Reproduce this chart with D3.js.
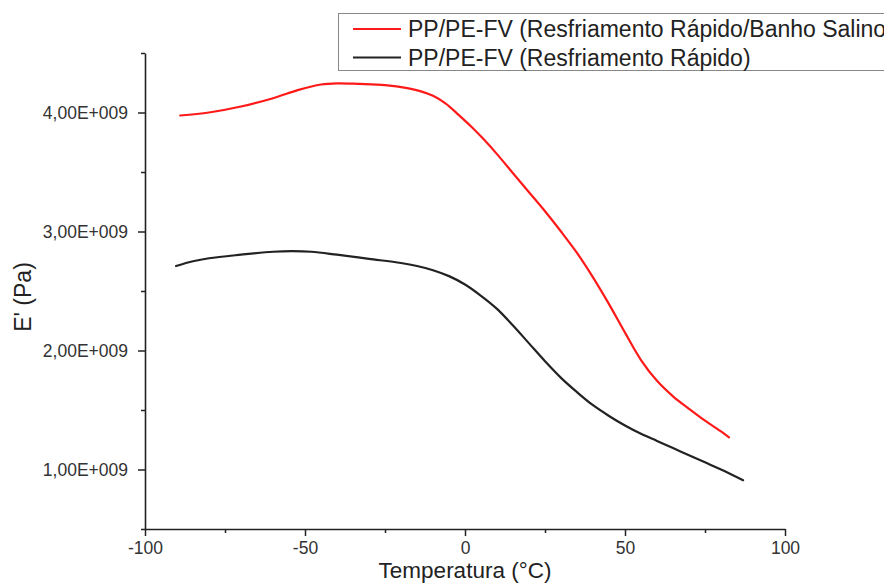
<!DOCTYPE html>
<html>
<head>
<meta charset="utf-8">
<script src="https://cdn.jsdelivr.net/npm/d3@7"></script>
<style>
  html, body { margin: 0; padding: 0; background: #fff; }
  svg { display: block; font-family: "Liberation Sans", Arial, sans-serif; }
</style>
</head>
<body>
<svg id="chart" width="884" height="583"></svg>
<script>
// Storage modulus E' (units of 1E+009 Pa) versus temperature (°C)
const tempSalino = [-89, -80, -70, -60, -52, -45, -40, -33, -25, -18, -14, -10, -6, -2, 2, 6, 10, 15, 20, 25, 30, 35, 40, 45, 50, 55, 60, 65, 70, 75, 80, 82.5];
const eSalino    = [3.975, 4.00, 4.05, 4.12, 4.19, 4.235, 4.245, 4.24, 4.23, 4.205, 4.18, 4.14, 4.075, 3.98, 3.88, 3.77, 3.65, 3.49, 3.33, 3.17, 3.00, 2.82, 2.615, 2.39, 2.15, 1.92, 1.745, 1.615, 1.51, 1.41, 1.32, 1.27];

const tempRapido = [-90.3, -85, -80, -70, -60, -54, -48, -40, -30, -20, -15, -10, -5, 0, 5, 10, 15, 20, 25, 30, 35, 40, 45, 50, 55, 60, 65, 70, 75, 80, 86.9];
const eRapido    = [2.71, 2.75, 2.775, 2.805, 2.83, 2.835, 2.83, 2.805, 2.77, 2.735, 2.71, 2.675, 2.625, 2.555, 2.46, 2.35, 2.21, 2.06, 1.91, 1.77, 1.65, 1.54, 1.45, 1.37, 1.30, 1.24, 1.18, 1.12, 1.06, 1.00, 0.91];

const seriesNames = [
  "PP/PE-FV (Resfriamento Rápido/Banho Salino)",
  "PP/PE-FV (Resfriamento Rápido)"
];
const seriesColors = ["#ff1a1a", "#222222"];

const xMajorTicks = [-100, -50, 0, 50, 100];
const xMinorTicks = [-75, -25, 25, 75];
const yMajorTicks = [1, 2, 3, 4];
const yMinorTicks = [0.5, 1.5, 2.5, 3.5, 4.5];

const xTitle = "Temperatura (°C)";
const yTitle = "E' (Pa)";

const plot = { left: 145, right: 785, top: 53, bottom: 529 };
const FONT = "'Liberation Sans', Arial, sans-serif";

const svg = d3.select("#chart");

const x = d3.scaleLinear().domain([-100, 100]).range([plot.left, plot.right]);
const y = d3.scaleLinear().domain([0.5, 4.5]).range([plot.bottom, plot.top]);

const fmtX = d => String(d);
const fmtY = d => d.toFixed(2).replace(".", ",") + "E+009";

// Minor ticks (no labels)
svg.append("g")
  .attr("transform", `translate(0,${plot.bottom})`)
  .call(d3.axisBottom(x).tickValues(xMinorTicks).tickSize(4).tickFormat(""))
  .call(g => g.select(".domain").remove())
  .call(g => g.selectAll("line").attr("stroke", "#222").attr("stroke-width", 1.5));

svg.append("g")
  .attr("transform", `translate(${plot.left},0)`)
  .call(d3.axisLeft(y).tickValues(yMinorTicks).tickSize(4).tickFormat(""))
  .call(g => g.select(".domain").remove())
  .call(g => g.selectAll("line").attr("stroke", "#222").attr("stroke-width", 1.5));

// Bottom axis
svg.append("g")
  .attr("transform", `translate(0,${plot.bottom})`)
  .attr("font-family", FONT)
  .call(d3.axisBottom(x).tickValues(xMajorTicks).tickSize(7).tickSizeOuter(0).tickPadding(6).tickFormat(fmtX))
  .call(g => g.select(".domain").attr("stroke", "#222").attr("stroke-width", 1.6))
  .call(g => g.selectAll("line").attr("stroke", "#222").attr("stroke-width", 1.5))
  .call(g => g.selectAll("text").attr("fill", "#333").attr("font-size", 17.5).attr("font-family", FONT));

// Left axis
svg.append("g")
  .attr("transform", `translate(${plot.left},0)`)
  .attr("font-family", FONT)
  .call(d3.axisLeft(y).tickValues(yMajorTicks).tickSize(7).tickSizeOuter(0).tickPadding(10).tickFormat(fmtY))
  .call(g => g.select(".domain").attr("stroke", "#222").attr("stroke-width", 1.6))
  .call(g => g.selectAll("line").attr("stroke", "#222").attr("stroke-width", 1.5))
  .call(g => g.selectAll("text").attr("fill", "#333").attr("font-size", 17.5).attr("font-family", FONT));

// Axis titles
svg.append("text")
  .attr("x", (plot.left + plot.right) / 2)
  .attr("y", 578)
  .attr("text-anchor", "middle")
  .attr("font-size", 22.5)
  .attr("fill", "#222")
  .text(xTitle);

svg.append("text")
  .attr("transform", `translate(31,297) rotate(-90)`)
  .attr("text-anchor", "middle")
  .attr("font-size", 23)
  .attr("fill", "#222")
  .text(yTitle);

// Curves
const line = d3.line()
  .x(d => x(d[0]))
  .y(d => y(d[1]))
  .curve(d3.curveCatmullRom.alpha(0.5));

const series = [
  d3.zip(tempSalino, eSalino),
  d3.zip(tempRapido, eRapido)
];

svg.append("g").selectAll("path")
  .data(series)
  .join("path")
  .attr("d", line)
  .attr("fill", "none")
  .attr("stroke", (d, i) => seriesColors[i])
  .attr("stroke-width", 2.2)
  .attr("stroke-linejoin", "round")
  .attr("stroke-linecap", "round");

// Legend
const legend = svg.append("g");
legend.append("rect")
  .attr("x", 338.5).attr("y", 13.5)
  .attr("width", 600).attr("height", 57)
  .attr("fill", "#fff")
  .attr("stroke", "#888")
  .attr("stroke-width", 1);

const rowY = [29, 57.5];
seriesNames.forEach((name, i) => {
  legend.append("line")
    .attr("x1", 353).attr("x2", 401)
    .attr("y1", rowY[i]).attr("y2", rowY[i])
    .attr("stroke", seriesColors[i])
    .attr("stroke-width", 2.2);
  legend.append("text")
    .attr("x", 408).attr("y", rowY[i] + 8)
    .attr("font-size", 23)
    .attr("fill", "#222")
    .text(name);
});
</script>
</body>
</html>
